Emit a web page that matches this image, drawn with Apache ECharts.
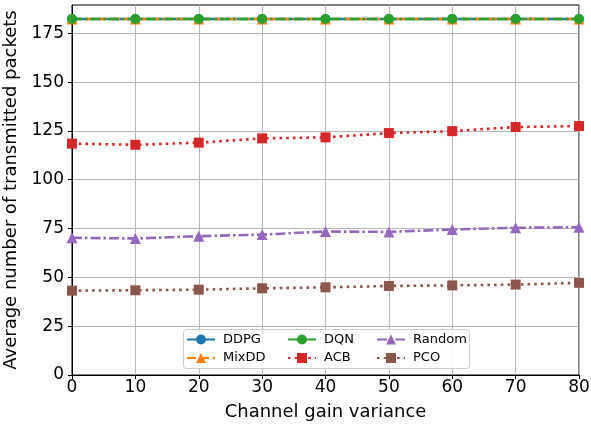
<!DOCTYPE html>
<html>
<head>
<meta charset="utf-8">
<script src="https://cdn.jsdelivr.net/npm/echarts@6/dist/echarts.min.js"></script>
<style>
  html, body { margin: 0; padding: 0; background: #fff; }
  #chart { width: 591px; height: 426px; }
</style>
</head>
<body>
<div id="chart"></div>
<script>
// Channel gain variance on the x axis
const variance = [0, 10, 20, 30, 40, 50, 60, 70, 80];

// Average number of transmitted packets per scheme
const ddpg   = [182.3, 182.3, 182.3, 182.3, 182.3, 182.3, 182.3, 182.3, 182.3];
const mixdd  = [182.3, 182.3, 182.3, 182.3, 182.3, 182.3, 182.3, 182.3, 182.3];
const dqn    = [182.3, 182.3, 182.3, 182.3, 182.3, 182.3, 182.3, 182.3, 182.3];
const acb    = [118.5, 117.9, 119.0, 121.2, 121.7, 123.9, 124.9, 127.0, 127.5];
const random = [70.3, 69.9, 71.1, 71.9, 73.5, 73.3, 74.5, 75.4, 75.7];
const pco    = [43.2, 43.4, 43.7, 44.4, 44.9, 45.6, 45.9, 46.3, 47.2];

const yTicks = [0, 25, 50, 75, 100, 125, 150, 175];
const xTicks = [0, 10, 20, 30, 40, 50, 60, 70, 80];

const FONT = 'DejaVu Sans';

function pairs(ys) {
  return variance.map((x, i) => [x, ys[i]]);
}

function lineSeries(name, ys, color, symbol, symbolSize, dash) {
  return {
    name: name,
    type: 'line',
    data: pairs(ys),
    symbol: symbol,
    symbolSize: symbolSize,
    showAllSymbol: true,
    animation: false,
    lineStyle: { color: color, width: 2.6, type: dash },
    itemStyle: { color: color, borderColor: color, borderWidth: 0 },
    emphasis: { disabled: true }
  };
}

const chart = echarts.init(document.getElementById('chart'), null, { renderer: 'canvas' });

const legendCommon = {
  orient: 'vertical',
  itemWidth: 28,
  itemHeight: 12.5,
  itemGap: 5.5,
  padding: 0,
  z: 6,
  textStyle: { fontFamily: FONT, fontSize: 13, color: '#000', lineHeight: 12, padding: [0, 0, 0, 3] }
};

chart.setOption({
  backgroundColor: '#fff',
  animation: false,
  textStyle: { fontFamily: FONT },
  grid: {
    left: 72, right: 12, top: 5, bottom: 51,
    containLabel: false,
    outerBoundsMode: 'none',
    show: true, borderColor: '#000', borderWidth: 1, backgroundColor: 'transparent'
  },
  graphic: [{
    type: 'rect',
    z: 5,
    shape: { x: 183.5, y: 329.5, width: 286, height: 39, r: 3 },
    style: { fill: 'rgba(255,255,255,0.85)', stroke: '#cccccc', lineWidth: 1 }
  }],
  legend: [
    Object.assign({ data: ['DDPG', 'MixDD'], left: 186, top: 333 }, legendCommon),
    Object.assign({ data: ['DQN', 'ACB'], left: 287, top: 333 }, legendCommon),
    Object.assign({ data: ['Random', 'PCO'], left: 376, top: 333 }, legendCommon)
  ],
  xAxis: {
    type: 'value',
    min: 0, max: 80, interval: 10,
    name: 'Channel gain variance',
    nameLocation: 'middle',
    nameGap: 28,
    nameTextStyle: { fontFamily: FONT, fontSize: 18, color: '#000' },
    axisLine: { show: true, lineStyle: { color: '#000', width: 1 } },
    axisTick: { show: true, length: 4, lineStyle: { color: '#000', width: 1 } },
    axisLabel: {
      fontFamily: FONT, fontSize: 17, color: '#000', margin: 4,
      customValues: xTicks
    },
    splitLine: { show: true, lineStyle: { color: '#b8b8b8', width: 1 } }
  },
  yAxis: {
    type: 'value',
    min: 0, max: 189.5, interval: 25,
    name: 'Average number of transmitted packets',
    nameLocation: 'middle',
    nameGap: 40,
    nameTextStyle: { fontFamily: FONT, fontSize: 18, color: '#000' },
    axisLine: { show: true, lineStyle: { color: '#000', width: 1 } },
    axisTick: { show: true, length: 4, lineStyle: { color: '#000', width: 1 }, customValues: yTicks },
    axisLabel: {
      fontFamily: FONT, fontSize: 17, color: '#000', margin: 8,
      customValues: yTicks
    },
    splitLine: { show: true, lineStyle: { color: '#b8b8b8', width: 1 } }
  },
  series: [
    lineSeries('DDPG', ddpg, '#1f77b4', 'circle', 10, 'solid'),
    lineSeries('MixDD', mixdd, '#ff7f0e', 'triangle', 11, [9, 4]),
    lineSeries('DQN', dqn, '#2ca02c', 'circle', 10, [10, 3, 2.5, 3]),
    lineSeries('ACB', acb, '#d62728', 'rect', 10, [2.6, 4.1]),
    lineSeries('Random', random, '#9467bd', 'triangle', 11, [10, 3, 2.5, 3]),
    lineSeries('PCO', pco, '#8c564b', 'rect', 10, [2.6, 4.1])
  ]
});
</script>
</body>
</html>
